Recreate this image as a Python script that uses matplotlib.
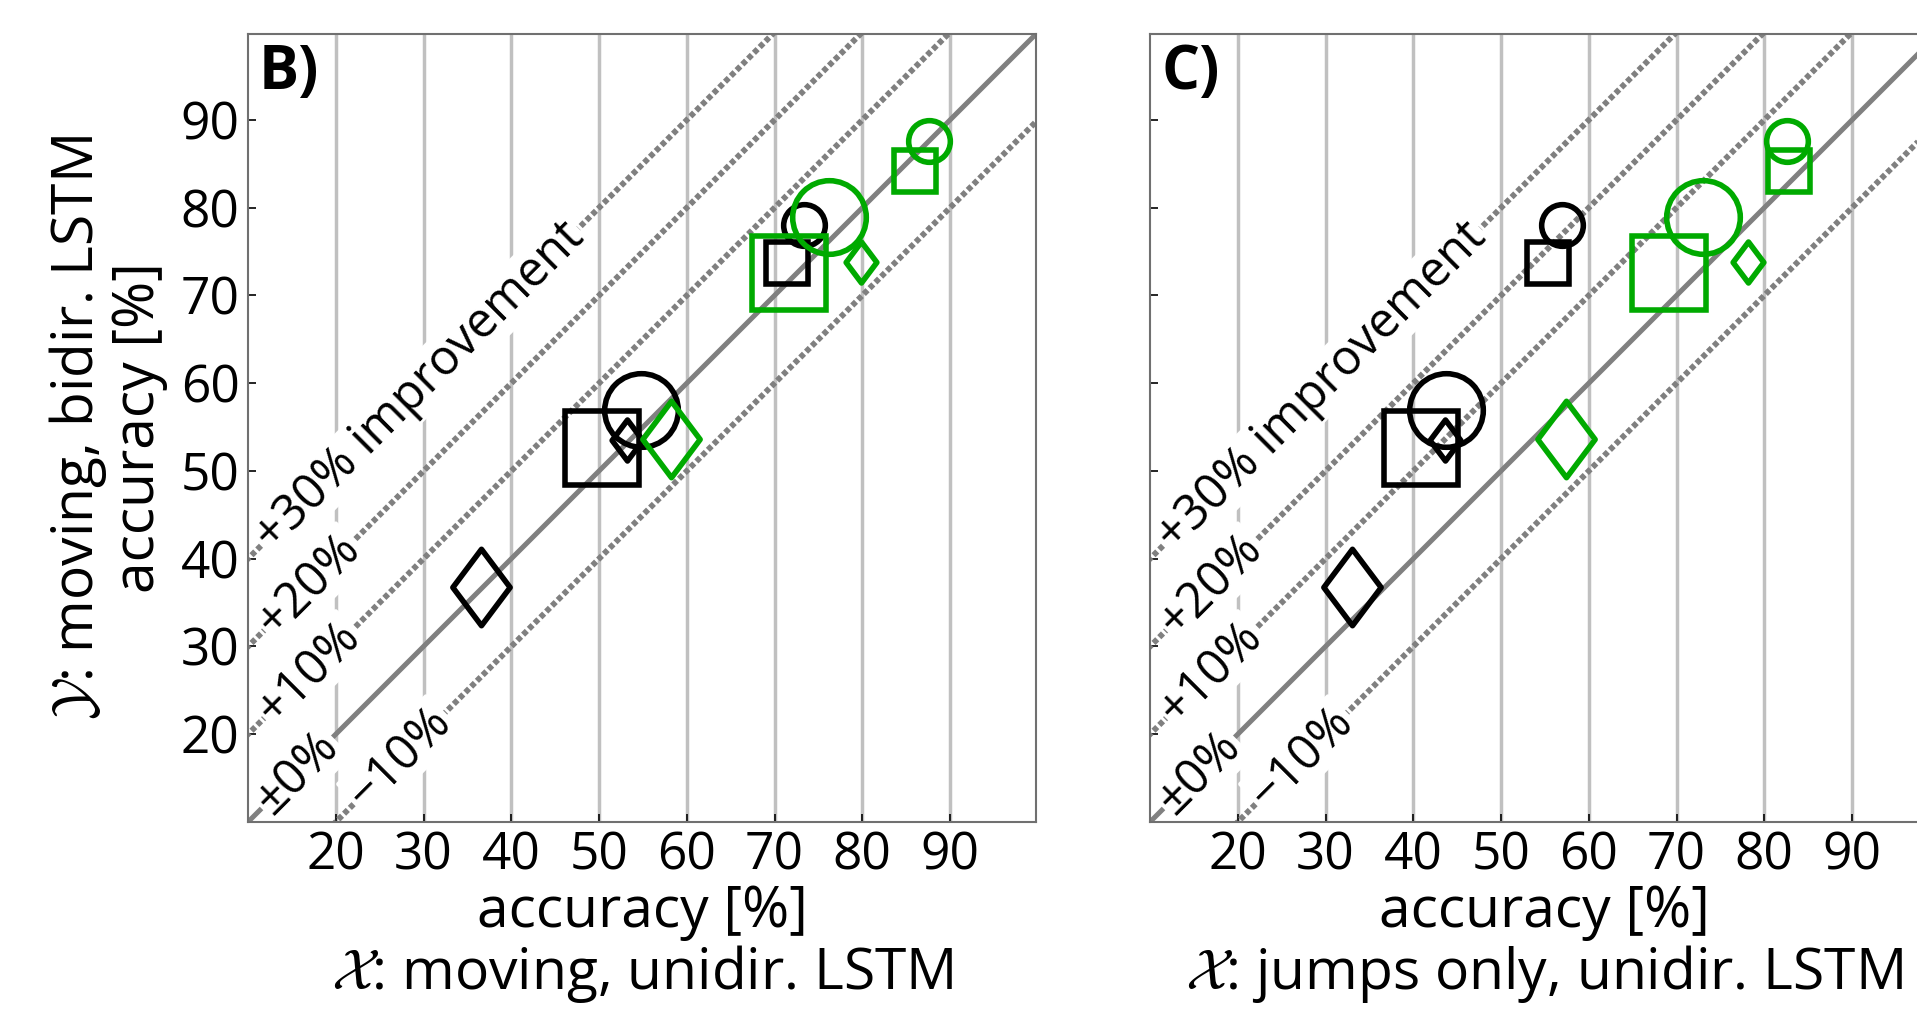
import matplotlib
matplotlib.use("Agg")
from matplotlib import pyplot as plt
from matplotlib.path import Path
import numpy as np

plt.rcParams['font.family'] = ['Open Sans', 'DejaVu Sans']
plt.rcParams['mathtext.fontset'] = 'cm'

# y values are shared (same Y model in both panels); order: circle, square, diamond
y_black_large = [57.0, 52.6, 36.8]
y_black_small = [78.0, 73.7, 53.5]
y_green_large = [79.0, 72.6, 53.7]
y_green_small = [87.6, 84.2, 73.8]

# panel B: X = moving, unidir. LSTM
xB_black_large = [54.8, 50.3, 36.6]
xB_black_small = [73.4, 71.4, 53.2]
xB_green_large = [76.2, 71.7, 58.2]
xB_green_small = [87.6, 86.0, 79.9]

# panel C: X = jumps only, unidir. LSTM
xC_black_large = [43.7, 40.9, 33.0]
xC_black_small = [56.9, 55.4, 43.6]
xC_green_large = [73.0, 69.2, 57.4]
xC_green_small = [82.6, 82.8, 78.2]

offsets = [-10, 0, 10, 20, 30]
offset_labels = ['\u221210%', '\u00b10%', '+10%', '+20%', '+30% improvement']
label_x = [27.3, 15.6, 17.0, 17.0, 29.6]
ticks = [20, 30, 40, 50, 60, 70, 80, 90]

green = '#00aa00'
grey = '#808080'

diamond = Path([(0, 0.5), (0.375, 0), (0, -0.5), (-0.375, 0), (0, 0.5)],
               [Path.MOVETO, Path.LINETO, Path.LINETO, Path.LINETO, Path.CLOSEPOLY])
markers = ['o', 's', diamond]
large = [53, 53, 55]
small = [30, 30, 29.5]


def panel(ax, letter, xs, xlabel, show_ylabels):
    lo, hi = 10, 99.8
    ax.set_xlim(lo, hi)
    ax.set_ylim(lo, hi)
    ax.set_axisbelow(True)
    ax.grid(axis='x', color='#c0c0c0', lw=2.5)

    # diagonal reference lines + labels
    for k, lab, lx in zip(offsets, offset_labels, label_x):
        xx = np.array([lo - 20, hi + 20])
        if k == 0:
            ax.plot(xx, xx + k, color=grey, lw=3.6, zorder=1)
        else:
            ax.plot(xx, xx + k, color=grey, lw=4.2, ls=(0, (0.9, 0.5)), zorder=1)
        ax.text(lx, lx + k, lab, rotation=45, rotation_mode='anchor',
                ha='center', va='center', fontsize=35, zorder=2,
                bbox=dict(boxstyle='round,pad=0.05', fc='white', ec='none'))

    groups = [(xs[0], y_black_large, 'black', large),
              (xs[1], y_black_small, 'black', small),
              (xs[2], y_green_large, green, large),
              (xs[3], y_green_small, green, small)]
    for gx, gy, col, sizes in groups:
        for i in range(3):
            ax.plot(gx[i], gy[i], marker=markers[i], ms=sizes[i], mfc='none',
                    mec=col, mew=4.0, ls='none', zorder=3)

    ax.set_xticks(ticks)
    ax.set_yticks(ticks)
    ax.tick_params(direction='in', length=6, width=1.2, labelsize=37, pad=6)
    if not show_ylabels:
        ax.set_yticklabels([])
    else:
        ax.set_ylabel('$\\mathcal{Y}$: moving, bidir. LSTM\naccuracy [%]',
                      fontsize=41, labelpad=9, linespacing=1.05)
    ax.set_xlabel('accuracy [%]\n' + xlabel, fontsize=41, labelpad=2, linespacing=1.05)
    for s in ax.spines.values():
        s.set_color('#707070')
        s.set_linewidth(1.5)
    ax.text(0.014, 0.988, letter, transform=ax.transAxes, ha='left', va='top',
            fontsize=43, fontweight='bold', zorder=4)


fig = plt.figure(figsize=(19.17, 10.09), dpi=100)
W, H = 1917, 1009
axB = fig.add_axes([248 / W, (H - 822) / H, 788 / W, 788 / H])
axC = fig.add_axes([1150 / W, (H - 822) / H, 788 / W, 788 / H])

panel(axB, 'B)', [xB_black_large, xB_black_small, xB_green_large, xB_green_small],
      '$\\mathcal{X}$: moving, unidir. LSTM', True)
panel(axC, 'C)', [xC_black_large, xC_black_small, xC_green_large, xC_green_small],
      '$\\mathcal{X}$: jumps only, unidir. LSTM', False)

plt.savefig('out.png', dpi=100)
